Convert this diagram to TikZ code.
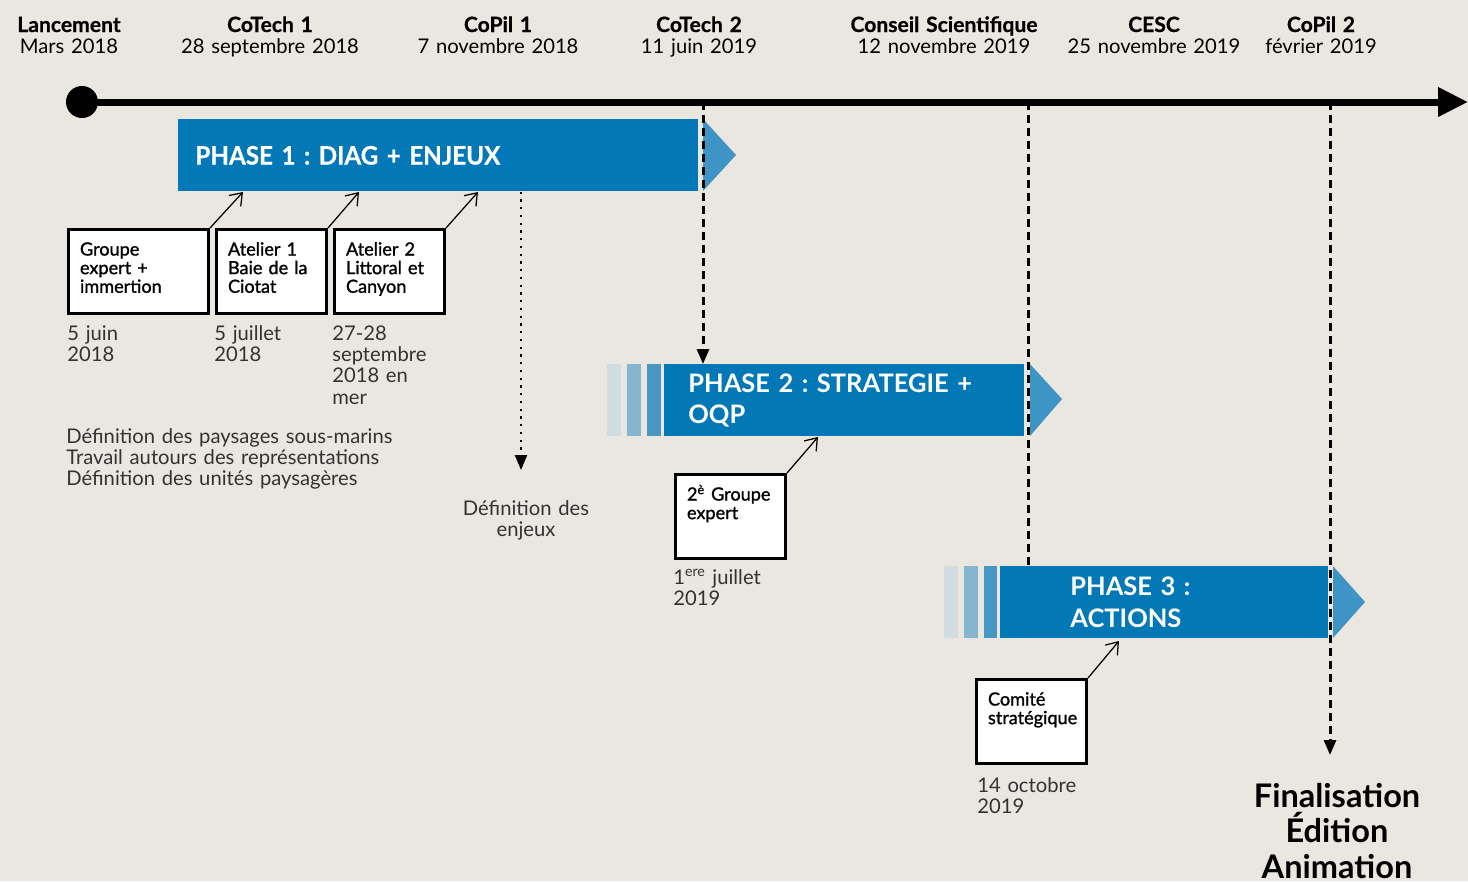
\documentclass[tikz,border=0pt]{standalone}
\usepackage{fontspec}
\setmainfont{Lato}
\newfontfamily\condfont[FakeStretch=0.95,FakeBold=0.6]{Lato}
\newfontfamily\headfont[FakeBold=0.6]{Lato}
\newfontfamily\semifont[FakeBold=1.2]{Lato}
\usetikzlibrary{arrows.meta,positioning}
\definecolor{bgbeige}{HTML}{EAE6E0}
\definecolor{phblue}{HTML}{0378B6}
\definecolor{tipblue}{HTML}{3E95C5}
\definecolor{stripeA}{HTML}{D0DCE0}
\definecolor{stripeB}{HTML}{85B5CF}
\definecolor{stripeC}{HTML}{4796C4}
\definecolor{datgrey}{HTML}{333333}

\begin{document}
\frenchspacing
\begin{tikzpicture}[x=0.2mm, y=-0.2mm,
  head/.style={text width=48mm, align=center, inner sep=0, anchor=base, font=\fontsize{11.5}{12.5}\selectfont},
  phase/.style={fill=phblue, text=white, anchor=north west, minimum height=14.4mm, inner ysep=0, align=left, font=\bfseries\fontsize{14.5}{18}\selectfont},
  meet/.style={draw=black, fill=white, line width=0.6mm, anchor=north west, inner xsep=2.3mm, inner ysep=2mm, text height=3.2mm, text depth=9.6mm, align=left, font=\semifont\fontsize{10.3}{10.6}\selectfont},
  datetxt/.style={text width=45mm, align=left, inner sep=0, anchor=base west, text=datgrey, font=\fontsize{11.5}{12.2}\selectfont},
  link/.style={line width=0.25mm, -{Straight Barb[length=2.2mm,width=3.2mm]}},
  dashline/.style={line width=0.6mm, dash pattern=on 1.6mm off 1mm},
  dotline/.style={line width=0.45mm, dash pattern=on 0.45mm off 1.1mm}
]
  % background
  \useasboundingbox (0,0) rectangle (1468,881);
  \fill[bgbeige] (0,0) rectangle (1468,881);

  % timeline
  \node[circle, fill=black, minimum size=6.4mm, inner sep=0] (start) at (82,102) {};
  \coordinate (tend) at (1468,102);
  \draw[line width=1.4mm, -{Triangle[length=6mm,width=5.6mm]}] (start.center) -- (tend);
  \coordinate (m2) at (703,102);
  \coordinate (m3) at (1028,102);
  \coordinate (m4) at (1330,102);

  % milestones
  \node[head] (lanc) at (69,32)   {{\headfont\bfseries\fontsize{12}{12.5}\selectfont Lancement}\\Mars 2018};
  \node[head] (cot1) at (270,32)  {{\headfont\bfseries\fontsize{12}{12.5}\selectfont CoTech 1}\\28 septembre 2018};
  \node[head] (cop1) at (498,32)  {{\headfont\bfseries\fontsize{12}{12.5}\selectfont CoPil 1}\\7 novembre 2018};
  \node[head] (cot2) at (699,32)  {{\headfont\bfseries\fontsize{12}{12.5}\selectfont CoTech 2}\\11 juin 2019};
  \node[head] (csci) at (944,32)  {{\headfont\bfseries\fontsize{12}{12.5}\selectfont Conseil Scientifique}\\12 novembre 2019};
  \node[head] (cesc) at (1154,32) {{\headfont\bfseries\fontsize{12}{12.5}\selectfont CESC}\\25 novembre 2019};
  \node[head] (cop2) at (1321,32) {{\headfont\bfseries\fontsize{12}{12.5}\selectfont CoPil 2}\\février 2019};

  % phase 1
  \node[phase, text width=97.2mm, inner xsep=3.4mm, font=\condfont\bfseries\fontsize{14.5}{18}\selectfont] (ph1) at (178,119) {PHASE 1 : DIAG + ENJEUX};
  \fill[tipblue] (703,119) -- (736,155) -- (703,191) -- cycle;

  % phase 2
  \fill[stripeA] (607,364) rectangle (621,436);
  \fill[stripeB] (627,364) rectangle (641,436);
  \fill[stripeC] (647,364) rectangle (661,436);
  \node[phase, text width=62.4mm, inner xsep=4.8mm] (ph2) at (664,364) {PHASE 2 : STRATEGIE +\\OQP};
  \fill[tipblue] (1030,364) -- (1062,399) -- (1030,436) -- cycle;

  % phase 3
  \fill[stripeA] (944,566) rectangle (958,638);
  \fill[stripeB] (964,566) rectangle (978,638);
  \fill[stripeC] (984,566) rectangle (997,638);
  \node[phase, text width=37.6mm, inner xsep=14mm] (ph3) at (1000,566) {PHASE 3 :\\ACTIONS};
  \fill[tipblue] (1333,566) -- (1365,602) -- (1333,638) -- cycle;

  % final step
  \node[anchor=base, text width=60mm, align=center, inner sep=0, font=\bfseries\fontsize{18.5}{20.4}\selectfont] (fin) at (1337,807) {Finalisation\\Édition\\Animation};
  \coordinate (finarr) at (1330,755);

  % dashed links from the timeline
  \draw[dashline, -{Triangle[length=3mm,width=2.4mm]}] (m2) -- (ph2.north -| m2);
  \draw[dashline] (m3) -- (ph3.north -| m3);
  \draw[dashline, -{Triangle[length=3mm,width=2.4mm]}] (m4) -- (finarr);

  % meetings
  \node[meet, text width=23.4mm] (grp1) at (67,228)  {Groupe\\expert +\\immertion};
  \node[meet, text width=17.4mm] (atl1) at (215,228) {Atelier 1\\Baie de la\\Ciotat};
  \node[meet, text width=17.4mm] (atl2) at (333,228) {Atelier 2\\Littoral et\\Canyon};
  \node[meet, text width=17.4mm] (grp2) at (674,473) {2\textsuperscript{è} Groupe\\expert};
  \node[meet, text width=17.4mm] (comi) at (975,678) {Comité\\stratégique};

  % links to the phases
  \coordinate (a1) at (243,192);
  \coordinate (a2) at (359,192);
  \coordinate (a3) at (478,192);
  \coordinate (a4) at (818,437);
  \coordinate (a5) at (1119,641);
  \draw[link] (grp1.north east) -- (a1);
  \draw[link] (atl1.north east) -- (a2);
  \draw[link] (atl2.north east) -- (a3);
  \draw[link] (grp2.north east) -- (a4);
  \draw[link] (comi.north east) -- (a5);

  % dates
  \node[datetxt] (d1) at (67,340)  {5 juin\\2018};
  \node[datetxt] (d2) at (214,340) {5 juillet\\2018};
  \node[datetxt] (d3) at (332,340) {27-28\\septembre\\2018 en\\mer};
  \node[datetxt] (d4) at (673,584) {1\textsuperscript{ere} juillet\\2019};
  \node[datetxt] (d5) at (977,792) {14 octobre\\2019};

  % phase 1 outputs
  \node[datetxt, text width=80mm] (trav) at (66,443) {Définition des paysages sous-marins\\Travail autours des représentations\\Définition des unités paysagères};
  \node[datetxt, anchor=base, align=center, text width=30mm] (enj) at (526,515) {Définition des\\enjeux};
  \coordinate (enjarr) at (521,470);
  \draw[dotline, -{Triangle[length=3mm,width=2.4mm]}] (ph1.south -| enjarr) -- (enjarr);
\end{tikzpicture}
\end{document}
